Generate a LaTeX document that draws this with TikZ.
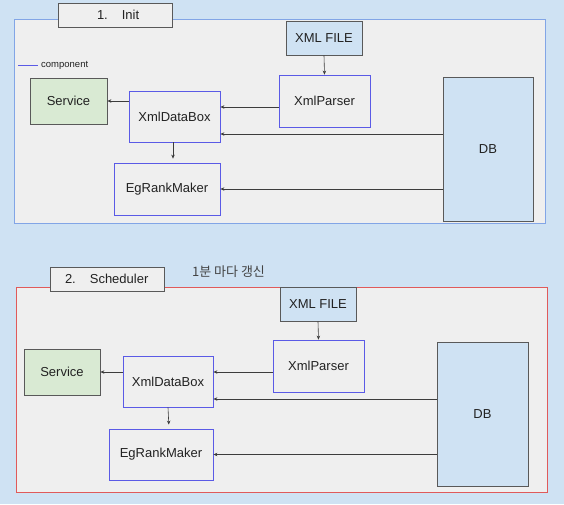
\documentclass[tikz,border=0pt]{standalone}
\usepackage{fontspec}
\setmainfont{Liberation Sans}
\newfontfamily\kofont{Noto Sans CJK KR}
\usetikzlibrary{arrows.meta}
\definecolor{bgblue}{RGB}{207,226,243}
\definecolor{panel}{RGB}{239,239,239}
\definecolor{frameblue}{RGB}{130,165,230}
\definecolor{framered}{RGB}{224,90,90}
\definecolor{compblue}{RGB}{90,90,230}
\definecolor{greyline}{RGB}{89,89,89}
\definecolor{greenfill}{RGB}{217,234,211}
\definecolor{arrowc}{RGB}{60,60,60}
\definecolor{txt}{RGB}{34,34,34}
\tikzset{
  box/.style={draw, line width=0.8pt, inner sep=0pt, text=txt,
    font=\fontsize{13}{15}\selectfont},
  comp/.style={box, draw=compblue},
  svc/.style={box, draw=greyline, fill=greenfill},
  file/.style={box, draw=greyline, fill=bgblue},
  titlebox/.style={draw=greyline, line width=0.8pt, fill=panel, inner sep=0pt,
    minimum height=24pt, text width=114pt, align=left, text=txt,
    font=\fontsize{13}{15}\selectfont},
  arr/.style={draw=arrowc, line width=0.6pt, -{Stealth[length=4pt,width=3.5pt]}},
}
\begin{document}
\begin{tikzpicture}[x=1pt,y=-1pt]
\fill[bgblue] (0,0) rectangle (564,504);
\useasboundingbox (0,0) rectangle (564,504);

% ---------- Panel 1 ----------
\draw[frameblue, line width=0.8pt, fill=panel] (14,19) rectangle (545,223);
\node[titlebox] (t1) at (115,15) {\hspace*{39pt}1.\hspace{14pt}Init};
\draw[compblue, line width=1pt] (18,65) -- (38,65) coordinate (lg1);
\node[anchor=west, inner sep=0pt, text=txt, font=\fontsize{9.5}{11}\selectfont] (lt1) at (41,65) {component};

\node[svc, minimum width=77pt, minimum height=46pt] (svc1) at (68.5,101) {Service};
\node[comp, minimum width=91pt, minimum height=51pt] (xdb1) at (174.5,116.5) {XmlDataBox};
\node[comp, minimum width=106pt, minimum height=52pt] (egr1) at (167,189) {EgRankMaker};
\node[file, minimum width=76pt, minimum height=34pt] (xf1) at (324,38) {XML FILE};
\node[comp, minimum width=91pt, minimum height=52pt] (xp1) at (324.5,101) {XmlParser};
\node[file, minimum width=90pt, minimum height=144pt] (db1) at (488,149) {DB};

\coordinate (a1) at (0,107);
\coordinate (b1) at (0,134);
\draw[arr] (xf1.south) -- (xp1.north);
\draw[arr] (xp1.west |- a1) -- (xdb1.east |- a1);
\draw[arr] (db1.west |- b1) -- (xdb1.east |- b1);
\draw[arr] (db1.west |- egr1) -- (egr1.east);
\draw[arr] (xdb1.west |- svc1) -- (svc1.east);
\draw[arr, shorten >=4pt] ([xshift=-1.5pt]xdb1.south) -- ([xshift=-1.5pt]xdb1.south |- egr1.north);

% ---------- Panel 2 ----------
\draw[framered, line width=0.8pt, fill=panel] (16,287) rectangle (547,492);
\node[titlebox] (t2) at (107,279) {\hspace*{15pt}2.\hspace{14pt}Scheduler};
\node[inner sep=0pt, text=txt!85, font=\kofont\fontsize{13}{15}\selectfont] (kt) at (228.5,272) {1분 마다 갱신};

\node[svc, minimum width=76pt, minimum height=46pt] (svc2) at (62,372) {Service};
\node[comp, minimum width=90pt, minimum height=51pt] (xdb2) at (168,381.5) {XmlDataBox};
\node[comp, minimum width=104pt, minimum height=51pt] (egr2) at (161,454.5) {EgRankMaker};
\node[file, minimum width=76pt, minimum height=34pt] (xf2) at (318,304) {XML FILE};
\node[comp, minimum width=91pt, minimum height=52pt] (xp2) at (318.5,366) {XmlParser};
\node[file, minimum width=91pt, minimum height=144pt] (db2) at (482.5,414) {DB};

\coordinate (a2) at (0,372);
\coordinate (b2) at (0,399);
\draw[arr] (xf2.south) -- (xp2.north);
\draw[arr] (xp2.west |- a2) -- (xdb2.east |- a2);
\draw[arr] (db2.west |- b2) -- (xdb2.east |- b2);
\draw[arr] (db2.west |- egr2) -- (egr2.east);
\draw[arr] (xdb2.west |- svc2) -- (svc2.east);
\draw[arr, shorten >=4pt] (xdb2.south) -- ([xshift=1pt]xdb2.south |- egr2.north);
\end{tikzpicture}
\end{document}
